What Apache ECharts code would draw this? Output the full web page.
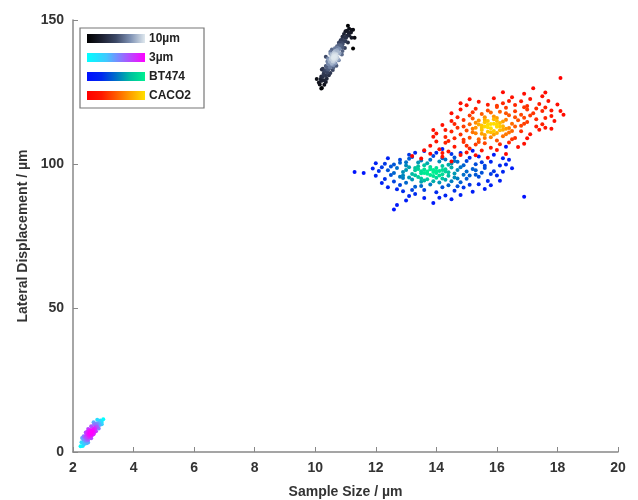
<!DOCTYPE html>
<html><head><meta charset="utf-8">
<script src="https://cdn.jsdelivr.net/npm/echarts@6/dist/echarts.min.js"></script>
<style>html,body{margin:0;padding:0;background:#fff}#c{width:638px;height:500px}</style>
</head><body><div id="c"></div>
<script>
// ---- data ----
const seriesNames = ['10µm', '3µm', 'BT474', 'CACO2'];
const xTicks = [2, 4, 6, 8, 10, 12, 14, 16, 18, 20];
const yTicks = [0, 50, 100, 150];

const pts10um = [[10.15,127.6],[10.2,128.9],[10.25,130.2],[10.18,129.5],[10.3,129.0],[10.28,131.4],[10.35,130.6],[10.33,132.5],[10.4,131.8],[10.38,133.6],[10.45,132.9],[10.43,134.7],[10.5,133.8],[10.48,135.5],[10.55,134.6],[10.52,136.4],[10.58,135.7],[10.6,137.1],[10.62,136.2],[10.65,137.6],[10.63,138.4],[10.68,136.9],[10.7,138.1],[10.66,139.2],[10.72,139.6],[10.75,138.8],[10.74,140.4],[10.8,140.0],[10.78,141.3],[10.83,141.0],[10.85,142.2],[10.9,141.6],[10.88,143.1],[10.95,142.7],[10.98,143.9],[11.05,144.5],[11.1,145.6],[11.2,146.5],[11.0,146.1],[10.6,133.5],[10.75,136.3],[10.5,138.3],[10.9,139.2],[10.35,128.5],[10.42,136.6],[11.2,143.8],[10.22,132.8],[10.55,139.8],[10.67,135.0],[10.7,137.3],[10.64,136.8],[10.61,138.0],[11.08,148.0],[10.22,126.4],[10.57,136.9],[10.69,137.9],[10.62,135.4],[10.73,137.0],
  [10.12,128.3],[10.3,127.5],[10.22,129.0],[10.2,130.4],[10.38,129.6],[10.28,131.0],[10.45,130.8],[10.3,132.2],[10.5,131.6],[10.4,132.8],[10.58,132.6],[10.25,133.1],[10.35,134.0],[10.48,133.6],[10.6,134.3],[10.42,134.8],[10.7,134.1],[10.55,135.0],[10.45,136.2],[10.58,135.8],[10.68,136.4],[10.52,136.9],[10.78,136.0],[10.62,137.2],[10.4,135.6],[10.55,138.1],[10.68,137.7],[10.8,138.4],[10.62,138.8],[10.88,138.0],[10.74,139.1],[10.5,139.0],[10.65,140.2],[10.78,139.8],[10.9,140.5],[10.72,140.9],[10.98,140.3],[10.85,141.2],[10.78,142.1],[10.9,141.9],[11.0,142.6],[10.84,143.0],[11.08,142.2],[10.9,144.2],[11.02,143.8],[11.12,144.6],[10.95,145.1],[11.05,146.3],[11.18,145.7],[11.12,147.0],[11.25,146.6],[10.2,126.2],[10.05,129.5],[11.3,143.8],[10.35,137.2],[11.25,140.1],[10.6,136.6],[10.66,137.4],[10.59,137.6],[10.7,136.6]];
const pts3um = [[2.32,2.1],[2.38,3.2],[2.42,3.9],[2.45,4.6],[2.4,5.1],[2.5,5.0],[2.52,5.8],[2.48,6.3],[2.55,6.1],[2.58,6.9],[2.6,6.4],[2.62,7.2],[2.57,7.6],[2.65,7.0],[2.66,7.9],[2.7,8.3],[2.72,7.6],[2.75,8.8],[2.78,9.3],[2.82,9.8],[2.86,10.2],[2.9,10.9],[2.95,10.4],[2.35,4.3],[2.45,3.0],[2.68,6.2],[2.53,7.3],[2.61,5.6],[2.77,9.9],[2.88,9.4],[2.59,6.7],[2.63,6.9],[2.56,6.5],[2.5,4.2],[2.8,8.6],[2.43,5.7],[2.7,9.6],[2.6,6.2],[2.58,7.1],
  [2.28,3.4],[2.5,3.3],[2.35,5.5],[2.6,4.8],[2.42,6.8],[2.7,6.8],[2.5,8.0],[2.76,7.2],[2.6,8.9],[2.85,8.2],[2.68,10.3],[2.95,9.6],[2.8,11.2],[3.0,11.4],[2.3,4.9],[2.52,6.6],[2.64,6.0],[2.55,5.4],[2.66,7.5],[2.47,7.0],[2.73,8.0],[2.36,2.6],[2.25,2.0]];
const ptsBT474 = [[13.6,104.5],[14.2,105.2],[14.8,103.8],[13.1,103.2],[15.2,104.6],[12.0,100.3],[12.3,100.1],[12.8,101.5],[13.2,102.4],[13.5,101.2],[13.9,102.8],[14.3,101.6],[14.6,102.3],[15.0,101.0],[15.4,102.6],[15.8,100.8],[12.6,99.8],[13.0,100.6],[13.7,100.3],[14.1,100.9],[14.5,100.2],[14.9,99.6],[15.3,99.9],[16.1,99.5],[15.6,98.6],[12.4,97.8],[12.7,98.6],[12.9,97.2],[13.1,98.9],[13.2,96.5],[13.3,97.8],[13.4,99.2],[13.5,96.8],[13.6,98.1],[13.7,97.4],[13.8,99.0],[13.8,96.2],[13.9,97.9],[14.0,98.6],[14.0,96.9],[14.1,97.6],[14.2,99.3],[14.2,96.4],[14.3,98.2],[14.4,97.1],[14.5,98.8],[14.6,96.7],[14.7,97.9],[14.8,98.9],[15.0,97.4],[15.2,98.3],[15.5,97.0],[13.0,99.5],[13.6,99.6],[14.4,99.7],[13.3,96.1],[13.9,95.8],[13.5,97.5],[13.7,96.6],[13.9,97.2],[14.1,96.0],[14.3,97.4],[13.4,98.3],[13.8,98.2],[14.0,97.5],[13.6,96.9],[14.2,97.9],[12.3,94.8],[12.6,93.9],[12.9,95.1],[13.0,93.5],[13.2,94.6],[13.4,95.5],[13.5,93.8],[13.7,94.7],[13.8,92.9],[14.0,95.2],[14.1,93.6],[14.3,94.5],[14.4,92.6],[14.6,95.3],[14.8,93.7],[15.0,94.9],[15.1,92.8],[15.4,95.6],[15.7,94.1],[16.0,96.0],[12.8,92.7],[13.3,92.1],[14.9,91.8],[12.9,90.5],[13.3,89.6],[13.6,91.0],[14.0,90.2],[14.3,89.1],[14.6,90.7],[15.2,90.4],[13.1,88.9],[14.1,88.3],[11.3,97.2],[12.6,84.2],[12.7,85.8],[13.9,86.5],[16.9,88.6],[11.6,96.9],[12.1,97.6],[16.3,99.8],[15.9,97.5],[12.2,93.4],[12.5,96.2],[12.9,96.0],[15.3,96.3],[14.7,100.8],[12.0,95.9],
  [12.5,99.1],[12.8,100.4],[13.1,101.8],[13.4,100.5],[13.8,101.5],[14.2,102.0],[14.6,101.0],[15.1,102.2],[15.5,100.6],[12.6,96.9],[12.8,95.6],[13.0,97.9],[13.1,95.3],[13.3,98.6],[13.5,95.0],[13.6,94.3],[13.9,94.0],[14.2,95.0],[14.4,95.9],[14.5,94.0],[14.7,95.0],[14.9,96.3],[15.1,96.0],[15.3,97.8],[15.6,99.4],[15.8,96.5],[16.2,97.3],[16.5,98.5],[12.4,91.9],[12.7,91.2],[13.2,91.0],[13.5,92.4],[14.2,91.9],[14.7,92.3],[15.4,93.0],[15.8,92.6],[16.1,94.2],[13.6,88.2],[14.5,87.8],[12.2,98.9],[11.9,98.4],[12.4,102.0],[13.3,103.9],[14.0,103.9],[14.5,103.5],[16.4,101.5],[15.9,103.2],[13.0,87.3],[14.8,89.2],[15.6,91.3],[16.2,102.0],[16.3,106.0]];
const ptsCACO2 = [[18.1,129.9],[17.2,126.3],[16.9,124.4],[15.4,121.6],[15.9,122.8],[16.2,121.1],[16.5,123.2],[16.8,121.8],[17.1,122.6],[17.4,120.8],[17.7,121.9],[15.0,120.4],[16.0,120.2],[16.6,120.5],[17.0,120.1],[14.5,117.6],[14.8,118.9],[15.1,116.8],[15.3,119.2],[15.5,117.4],[15.7,118.6],[15.9,116.5],[16.1,118.1],[16.3,119.5],[16.4,116.9],[16.6,118.3],[16.8,117.1],[17.0,118.9],[17.2,117.6],[17.5,118.4],[17.8,116.7],[18.2,117.1],[17.6,119.6],[16.0,119.8],[15.6,116.2],[16.9,116.1],[14.2,113.5],[14.5,114.9],[14.7,112.6],[14.9,115.3],[15.1,113.8],[15.2,112.2],[15.4,115.1],[15.5,113.4],[15.6,114.5],[15.7,112.8],[15.8,113.9],[15.9,115.5],[16.0,112.9],[16.1,114.2],[16.2,113.1],[16.3,115.4],[16.4,112.5],[16.5,114.0],[16.7,115.2],[16.8,113.3],[17.0,114.6],[17.3,115.5],[17.5,113.8],[17.9,114.9],[15.6,113.0],[15.9,114.0],[15.3,114.3],[16.2,114.8],[15.7,113.6],[15.8,112.4],[16.0,113.7],[15.5,112.6],[14.0,110.6],[14.3,109.4],[14.5,111.3],[14.6,108.9],[14.8,110.2],[15.0,111.6],[15.1,109.1],[15.3,110.7],[15.4,108.6],[15.5,111.8],[15.6,110.1],[15.7,111.2],[15.8,109.3],[16.0,110.8],[16.1,111.7],[16.2,109.6],[16.4,110.9],[16.6,109.0],[16.8,111.4],[17.1,110.3],[17.4,111.9],[15.2,111.0],[15.9,111.5],[13.8,106.3],[14.1,105.1],[14.3,107.4],[14.6,106.0],[14.9,107.6],[15.1,105.4],[15.3,106.8],[15.6,107.2],[15.8,105.6],[16.1,106.9],[16.4,107.5],[16.7,105.9],[14.4,104.3],[15.0,104.0],[15.5,104.7],[13.6,104.8],[13.2,102.8],[13.5,101.9],[14.2,102.5],[14.8,103.1],[15.7,102.2],[16.3,103.5],[13.8,103.6],[14.5,100.9],[13.9,111.8],[17.6,124.8],
  [14.3,111.8],[14.6,113.9],[14.9,113.0],[15.2,115.8],[15.4,113.7],[15.5,110.5],[15.6,115.4],[15.8,111.0],[16.0,116.0],[16.1,113.0],[16.3,112.2],[16.5,111.5],[16.6,116.2],[16.9,114.0],[17.1,116.8],[17.3,113.0],[17.6,116.0],[17.8,118.6],[18.0,120.7],[16.3,117.6],[15.8,117.9],[15.2,118.0],[14.7,116.2],[14.4,108.0],[14.9,108.4],[15.4,107.6],[16.0,108.2],[16.5,108.6],[17.0,108.9],[17.6,112.6],[15.0,106.3],[14.0,107.8],[13.9,109.5],[16.9,119.7],[17.3,119.3],[16.4,121.9],[15.7,120.6],[15.1,122.5],[14.8,121.1],[15.6,109.0],[15.9,110.2],[16.3,110.3],[15.3,112.6],[15.7,114.9],[16.0,114.9],[16.2,111.9],[16.6,113.0],[17.8,112.2],[18.1,118.4],[17.5,123.5],[16.2,124.9],[14.2,103.8],[15.3,103.0],[16.0,104.9],[16.9,107.0]];

const allSets = [pts10um, pts3um, ptsBT474, ptsCACO2];
const gradients = [
  ['#000000', '#1c2030', '#3c4866', '#7f92b4', '#dfe8ee'],
  ['#00ffff', '#40c8ff', '#a060ff', '#ff00ff'],
  ['#0010ff', '#0028f0', '#0070c8', '#00c0a0', '#00f090'],
  ['#ff0000', '#ff1800', '#ff5a00', '#ffa000', '#ffe000']
];

// local density (Gaussian kernel in screen-like units) for colouring
function withDensity(pts) {
  const sx = 30.28, sy = 2.88, s2 = 2 * 7 * 7;
  const out = pts.map(p => {
    let d = 0;
    for (const q of pts) {
      const dx = (p[0] - q[0]) * sx, dy = (p[1] - q[1]) * sy;
      d += Math.exp(-(dx * dx + dy * dy) / s2);
    }
    return [p[0], p[1], d];
  });
  out.sort((a, b) => a[2] - b[2]);
  return out;
}
const dens = allSets.map(withDensity);

const chart = echarts.init(document.getElementById('c'));
const series = dens.map((d, i) => ({
  name: seriesNames[i], type: 'scatter', data: d, symbolSize: 4,
  itemStyle: { opacity: 1 }
}));
const visualMap = dens.map((d, i) => ({
  type: 'continuous', show: false, seriesIndex: i, dimension: 2,
  min: Math.min(...d.map(p => p[2])), max: Math.max(...d.map(p => p[2])),
  inRange: { color: gradients[i] }
}));

const gfx = [{ type: 'rect', shape: { x: 80, y: 28, width: 124, height: 80 },
  style: { fill: '#fff', stroke: '#777', lineWidth: 1.2 }, z: 10 }];
const swY = [34, 53, 72, 91];
seriesNames.forEach((n, i) => {
  const g = gradients[i];
  gfx.push({ type: 'rect', shape: { x: 87, y: swY[i], width: 58, height: 9 }, z: 11,
    style: { fill: new echarts.graphic.LinearGradient(0, 0, 1, 0,
      g.map((c, k) => ({ offset: k / (g.length - 1), color: c }))) } });
  gfx.push({ type: 'text', x: 149, y: swY[i] + 4.5, z: 11,
    style: { text: n, fill: '#222', font: 'bold 12px Arial', verticalAlign: 'middle' } });
});

chart.setOption({
  animation: false,
  grid: { left: 73, right: 20, top: 20, bottom: 48, containLabel: false, outerBoundsMode: 'none' },
  xAxis: {
    type: 'value', min: xTicks[0], max: xTicks[xTicks.length - 1], interval: 2,
    name: 'Sample Size / µm', nameLocation: 'middle', nameGap: 33,
    nameTextStyle: { fontFamily: 'Arial', fontWeight: 'bold', fontSize: 14, color: '#333' },
    axisLine: { lineStyle: { color: '#888', width: 1.5 } },
    axisTick: { inside: true, length: 5, lineStyle: { color: '#888' } },
    axisLabel: { fontFamily: 'Arial', fontWeight: 'bold', fontSize: 14, color: '#333', margin: 9 },
    splitLine: { show: false }
  },
  yAxis: {
    type: 'value', min: yTicks[0], max: yTicks[yTicks.length - 1], interval: 50,
    name: 'Lateral Displacement / µm', nameLocation: 'middle', nameGap: 40,
    nameTextStyle: { fontFamily: 'Arial', fontWeight: 'bold', fontSize: 14, color: '#333' },
    axisLine: { show: true, lineStyle: { color: '#888', width: 1.5 } },
    axisTick: { show: true, inside: true, length: 5, lineStyle: { color: '#888' } },
    axisLabel: { fontFamily: 'Arial', fontWeight: 'bold', fontSize: 14, color: '#333', margin: 9 },
    splitLine: { show: false }
  },
  visualMap: visualMap,
  series: series,
  graphic: gfx
});
</script></body></html>
